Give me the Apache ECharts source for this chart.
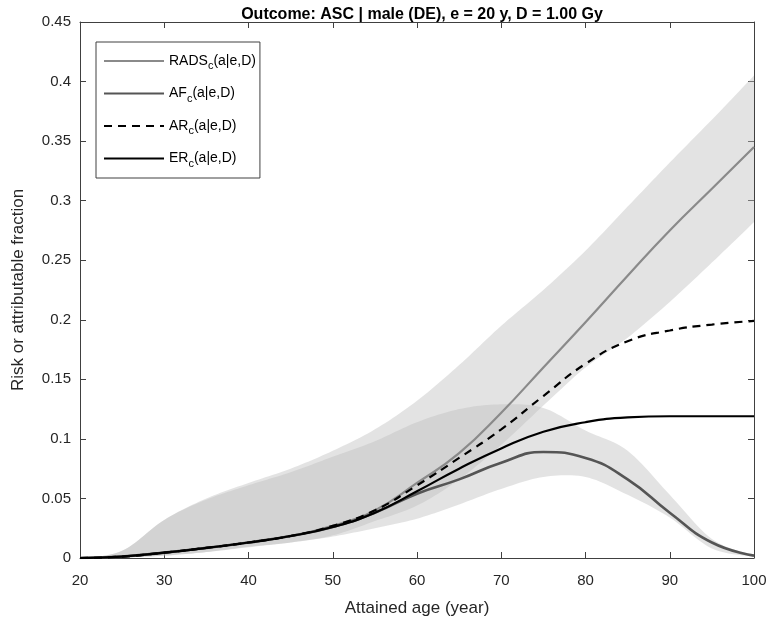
<!DOCTYPE html>
<html><head><meta charset="utf-8">
<script src="https://cdn.jsdelivr.net/npm/echarts@6/dist/echarts.min.js"></script>
<style>html,body{margin:0;padding:0;background:#fff}#c{width:774px;height:625px}</style>
</head><body><div id="c"></div>
<script>
// ---- data ----
const ages      = [20, 25, 30, 35, 40, 45, 50, 55, 60, 65, 70, 75, 80, 85, 90, 95, 100];
const RADS      = [0, 0.0012, 0.0045, 0.0085, 0.013, 0.0185, 0.027, 0.040, 0.063, 0.088, 0.122, 0.160, 0.198, 0.237, 0.275, 0.310, 0.345];
const AF        = [0, 0.0012, 0.0045, 0.0085, 0.013, 0.0185, 0.026, 0.038, 0.054, 0.066, 0.080, 0.089, 0.084, 0.066, 0.038, 0.013, 0.002];
const AR        = [0, 0.0012, 0.0045, 0.0085, 0.013, 0.0185, 0.027, 0.040, 0.061, 0.084, 0.108, 0.136, 0.163, 0.182, 0.191, 0.196, 0.199];
const ER        = [0, 0.0012, 0.0045, 0.0085, 0.013, 0.0185, 0.026, 0.038, 0.056, 0.075, 0.092, 0.106, 0.114, 0.118, 0.119, 0.119, 0.119];
const RADS_lo   = [0, 0.0004, 0.002, 0.005, 0.0095, 0.013, 0.019, 0.031, 0.044, 0.066, 0.095, 0.128, 0.160, 0.185, 0.215, 0.248, 0.282];
const RADS_hi   = [0, 0.006, 0.032, 0.050, 0.063, 0.075, 0.090, 0.108, 0.132, 0.162, 0.195, 0.225, 0.258, 0.295, 0.332, 0.368, 0.405];
const AF_lo     = [0, 0.0004, 0.002, 0.005, 0.009, 0.013, 0.018, 0.025, 0.033, 0.045, 0.058, 0.068, 0.068, 0.053, 0.034, 0.008, 0.001];
const AF_hi     = [0, 0.006, 0.032, 0.049, 0.061, 0.072, 0.085, 0.098, 0.114, 0.125, 0.129, 0.126, 0.107, 0.090, 0.053, 0.016, 0.002];
const xTicks = {min: 20, max: 100, interval: 10};
const yTicks = {min: 0, max: 0.45, interval: 0.05};
const titleText = 'Outcome: ASC | male (DE), e = 20 y, D = 1.00 Gy';
const xName = 'Attained age (year)';
const yName = 'Risk or attributable fraction';
const seriesNames = ['RADS', 'AF', 'AR', 'ER'];

// ---- build ----
const pairs = arr => ages.map((a, i) => [a, arr[i]]);
const FONT = 'Liberation Sans, Arial, Helvetica, sans-serif';
const axisCol = '#404040';
const bandFill = 'rgba(189,189,189,0.42)';

// Catmull-Rom smoothing of pixel points (rendering only)
function smoothPts(p) {
  const out = [];
  const n = p.length, steps = 12;
  for (let i = 0; i < n - 1; i++) {
    const p0 = p[Math.max(0, i - 1)], p1 = p[i], p2 = p[i + 1], p3 = p[Math.min(n - 1, i + 2)];
    for (let s = 0; s < steps; s++) {
      const t = s / steps, t2 = t * t, t3 = t2 * t;
      const f = k => 0.5 * ((2 * p1[k]) + (-p0[k] + p2[k]) * t + (2 * p0[k] - 5 * p1[k] + 4 * p2[k] - p3[k]) * t2 + (-p0[k] + 3 * p1[k] - 3 * p2[k] + p3[k]) * t3);
      out.push([f(0), f(1)]);
    }
  }
  out.push(p[n - 1]);
  return out;
}

const band = (name, lo, hi) => ({
  name, type: 'custom', silent: true, z: 1,
  data: ages.map((a, i) => [a, lo[i], hi[i]]),
  encode: {x: 0, y: [1, 2]},
  renderItem: function (params, api) {
    if (params.dataIndex !== 0) return null;
    const up = smoothPts(ages.map((a, i) => api.coord([a, hi[i]])));
    const dn = smoothPts(ages.map((a, i) => api.coord([a, lo[i]])));
    return {
      type: 'polygon',
      shape: {points: up.concat(dn.reverse())},
      style: {fill: bandFill, stroke: null}
    };
  }
});

const line = (name, data, color, width, type) => ({
  name, type: 'line', data, smooth: true, symbol: 'none', showSymbol: false,
  lineStyle: {color, width, type: type || 'solid'}, itemStyle: {color}, z: 3
});

const legendLabel = {
  RADS: 'RADS{s|c}(a|e,D)', AF: 'AF{s|c}(a|e,D)', AR: 'AR{s|c}(a|e,D)', ER: 'ER{s|c}(a|e,D)'
};

const chart = echarts.init(document.getElementById('c'), null, {renderer: 'canvas'});
chart.setOption({
  animation: false,
  backgroundColor: '#fff',
  title: {
    text: titleText, left: 417, top: 2, textAlign: 'center',
    textStyle: {fontFamily: FONT, fontSize: 16, fontWeight: 'bold', color: '#000'}
  },
  legend: {
    data: seriesNames,
    orient: 'vertical', left: 96, top: 42,
    itemWidth: 60, itemHeight: 14, itemGap: 15,
    padding: [12, 4, 9, 7],
    borderColor: '#404040', borderWidth: 1, backgroundColor: '#fff',
    itemStyle: {opacity: 0},
    formatter: n => legendLabel[n],
    textStyle: {
      fontFamily: FONT, fontSize: 14, color: '#000',
      rich: {s: {fontFamily: FONT, fontSize: 11, color: '#000', padding: [10, 0, 0, 0]}}
    }
  },
  grid: {left: 80, right: 20, top: 22, bottom: 67, containLabel: false},
  xAxis: [{
    type: 'value', min: xTicks.min, max: xTicks.max, interval: xTicks.interval,
    name: xName, nameLocation: 'middle', nameGap: 42,
    nameTextStyle: {fontFamily: FONT, fontSize: 17, color: '#262626'},
    axisLine: {show: true, lineStyle: {color: axisCol, width: 1}},
    axisTick: {show: true, inside: true, length: 6, lineStyle: {color: axisCol}},
    axisLabel: {fontFamily: FONT, fontSize: 15, color: '#262626', margin: 15},
    splitLine: {show: false}
  }, {
    type: 'value', position: 'top', min: xTicks.min, max: xTicks.max, interval: xTicks.interval,
    axisLine: {show: true, onZero: false, lineStyle: {color: axisCol, width: 1}},
    axisTick: {show: true, inside: true, length: 6, lineStyle: {color: axisCol}},
    axisLabel: {show: false}, splitLine: {show: false}
  }],
  yAxis: [{
    type: 'value', min: yTicks.min, max: yTicks.max, interval: yTicks.interval,
    name: yName, nameLocation: 'middle', nameGap: 53,
    nameTextStyle: {fontFamily: FONT, fontSize: 17, color: '#262626'},
    axisLine: {show: true, lineStyle: {color: axisCol, width: 1}},
    axisTick: {show: true, inside: true, length: 6, lineStyle: {color: axisCol}},
    axisLabel: {fontFamily: FONT, fontSize: 15, color: '#262626', margin: 9},
    splitLine: {show: false}
  }, {
    type: 'value', position: 'right', min: yTicks.min, max: yTicks.max, interval: yTicks.interval,
    axisLine: {show: true, onZero: false, lineStyle: {color: axisCol, width: 1}},
    axisTick: {show: true, inside: true, length: 6, lineStyle: {color: axisCol}},
    axisLabel: {show: false}, splitLine: {show: false}
  }],
  series: [
    band('radsBand', RADS_lo, RADS_hi),
    band('afBand', AF_lo, AF_hi),
    line('RADS', pairs(RADS), '#8a8a8a', 2.2),
    line('AF', pairs(AF), '#555555', 2.6),
    line('AR', pairs(AR), '#000000', 2.2, [8, 6]),
    line('ER', pairs(ER), '#000000', 2.2)
  ]
});
</script>
</body></html>
